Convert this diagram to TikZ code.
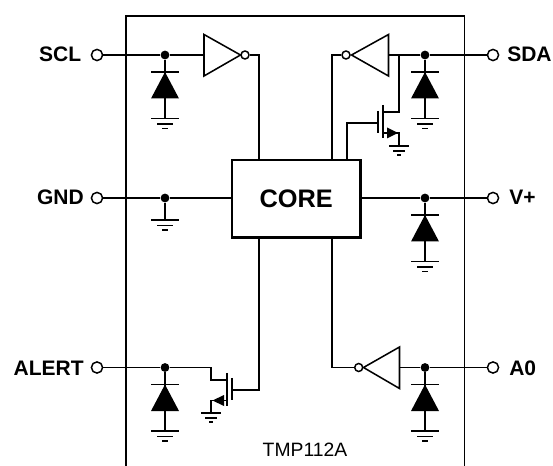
\documentclass[tikz,border=0pt]{standalone}
\usepackage{fontspec}
\setmainfont{Liberation Sans}
\tikzset{
  wire/.style={line width=1.15pt},
  pin/.style={circle,draw,line width=1.1pt,fill=white,inner sep=0pt,minimum size=8.4pt},
  bubble/.style={circle,draw,line width=1.1pt,fill=white,inner sep=0pt,minimum size=6pt},
  jdot/.style={circle,fill=black,inner sep=0pt,minimum size=6.6pt},
  pinlabel/.style={inner sep=0pt,font=\fontsize{15.75}{18}\selectfont\bfseries},
  corebox/.style={draw,line width=2pt,inner sep=0pt,minimum width=96.2pt,minimum height=58.3pt,font=\fontsize{19}{22}\selectfont\bfseries},
  gndmark/.pic={\draw[wire] (-14,0)--(14,0) (-8,5.5)--(8,5.5) (-3,10)--(3,10);},
  gndsmall/.pic={\draw[wire] (-10,0)--(10,0) (-6,5)--(6,5) (-2,9)--(2,9);}
}
\begin{document}
\begin{tikzpicture}[x=0.75pt,y=-0.75pt]
\useasboundingbox (0,0) rectangle (553,466);
% package outline, open at the bottom
\draw [wire](126,466)--(126,16)--(464.5,16)--(464.5,466);

\node [corebox] (core) at (296.2,198.9) {CORE};
\node [anchor=base,inner sep=0pt,font=\fontsize{14.5}{16}\selectfont] (partname) at (305,456.5) {TMP112A};

% pins
\node [pin] (sclpin) at (97,55) {};
\node [pin] (gndpin) at (97,198) {};
\node [pin] (alertpin) at (97,367.5) {};
\node [pin] (sdapin) at (493,55) {};
\node [pin] (vpin) at (493,198) {};
\node [pin] (azeropin) at (493,367.5) {};

\node [pinlabel,anchor=base east] (scllabel) at (81.5,62) {SCL};
\node [pinlabel,anchor=base east] (gndlabel) at (84,205) {GND};
\node [pinlabel,anchor=base east] (alertlabel) at (84,375) {ALERT};
\node [pinlabel,anchor=base west] (sdalabel) at (507,62) {SDA};
\node [pinlabel,anchor=base west] (vlabel) at (509,205) {V+};
\node [pinlabel,anchor=base west] (azerolabel) at (509,375) {A0};

% clamp diodes
\foreach \n/\x/\y in {scl/165/55,sda/425/55,v/425/198,alert/165/367.5,azero/425/367.5}{
\node [jdot] (\n dot) at (\x,\y) {};
\coordinate (\n bar) at (\x,\y+17);
\coordinate (\n gnd) at (\x,\y+63.5);
\draw [wire](\n dot)--(\n gnd);
\draw [wire](\x-14,\y+17)--(\x+14,\y+17);
\fill (\x,\y+17)--(\x+14,\y+43.5)--(\x-14,\y+43.5)--cycle;
\pic at (\n gnd) {gndmark};
}

% GND
\node [jdot] (gnddot) at (165,198) {};
\coordinate (gndgnd) at (165,220);
\draw [wire](gndpin)--(gnddot)--(core.west |- gnddot);
\draw [wire](gnddot)--(gndgnd);
\pic at (gndgnd) {gndmark};

% SCL buffer
\coordinate (sclin) at (204,55);
\node [bubble] (sclbub) at (245,55) {};
\coordinate (coresclin) at (259,160);
\draw [wire](sclpin)--(scldot)--(sclin);
\draw [wire](204,34.5)--(240.5,55)--(204,76)--cycle;
\draw [wire](sclbub)-|(coresclin);

% SDA buffer and pull-down
\coordinate (sdain) at (388.5,55);
\coordinate (sdatap) at (399,55);
\node [bubble] (sdabub) at (346,55) {};
\coordinate (coresdain) at (332,160);
\coordinate (coresdaout) at (347,160);
\draw [wire](sdapin)--(sdadot)--(sdain);
\draw [wire](388.5,34.5)--(351.5,55)--(388.5,76)--cycle;
\draw [wire](sdabub)-|(coresdain);
\coordinate (sdagate) at (378,123);
\coordinate (sdagnd) at (399,146);
\draw [wire](sdatap)|-(383,112);
\draw [wire](383,105)--(383,138);
\draw [wire,line width=1.4pt](378,111)--(378,133);
\draw [wire](coresdaout)|-(sdagate);
\draw [wire](383,133)-|(sdagnd);
\fill (398,133)--(387,127.5)--(387,138.5)--cycle;
\pic at (sdagnd) {gndsmall};

% V+
\draw [wire](core.east |- vdot)--(vdot)--(vpin);

% ALERT pull-down
\coordinate (alertgate) at (232,390);
\coordinate (corealert) at (259,237.7);
\coordinate (alertgnd) at (211,413);
\draw [wire](alertpin)--(alertdot)-|(211,380)--(227,380);
\draw [wire](227,373)--(227,405.5);
\draw [wire,line width=1.4pt](232,378)--(232,400);
\draw [wire](corealert)|-(alertgate);
\draw [wire](227,400.5)-|(alertgnd);
\fill (212.5,400.5)--(224,395)--(224,406)--cycle;
\pic at (alertgnd) {gndsmall};

% A0 buffer
\coordinate (azeroin) at (399.5,367.5);
\node [bubble] (azerobub) at (358.7,367.5) {};
\coordinate (coreazero) at (332,237.7);
\draw [wire](azeropin)--(azerodot)--(azeroin);
\draw [wire](399.5,347)--(363.5,367.5)--(399.5,388.5)--cycle;
\draw [wire](azerobub)-|(coreazero);
\end{tikzpicture}
\end{document}
